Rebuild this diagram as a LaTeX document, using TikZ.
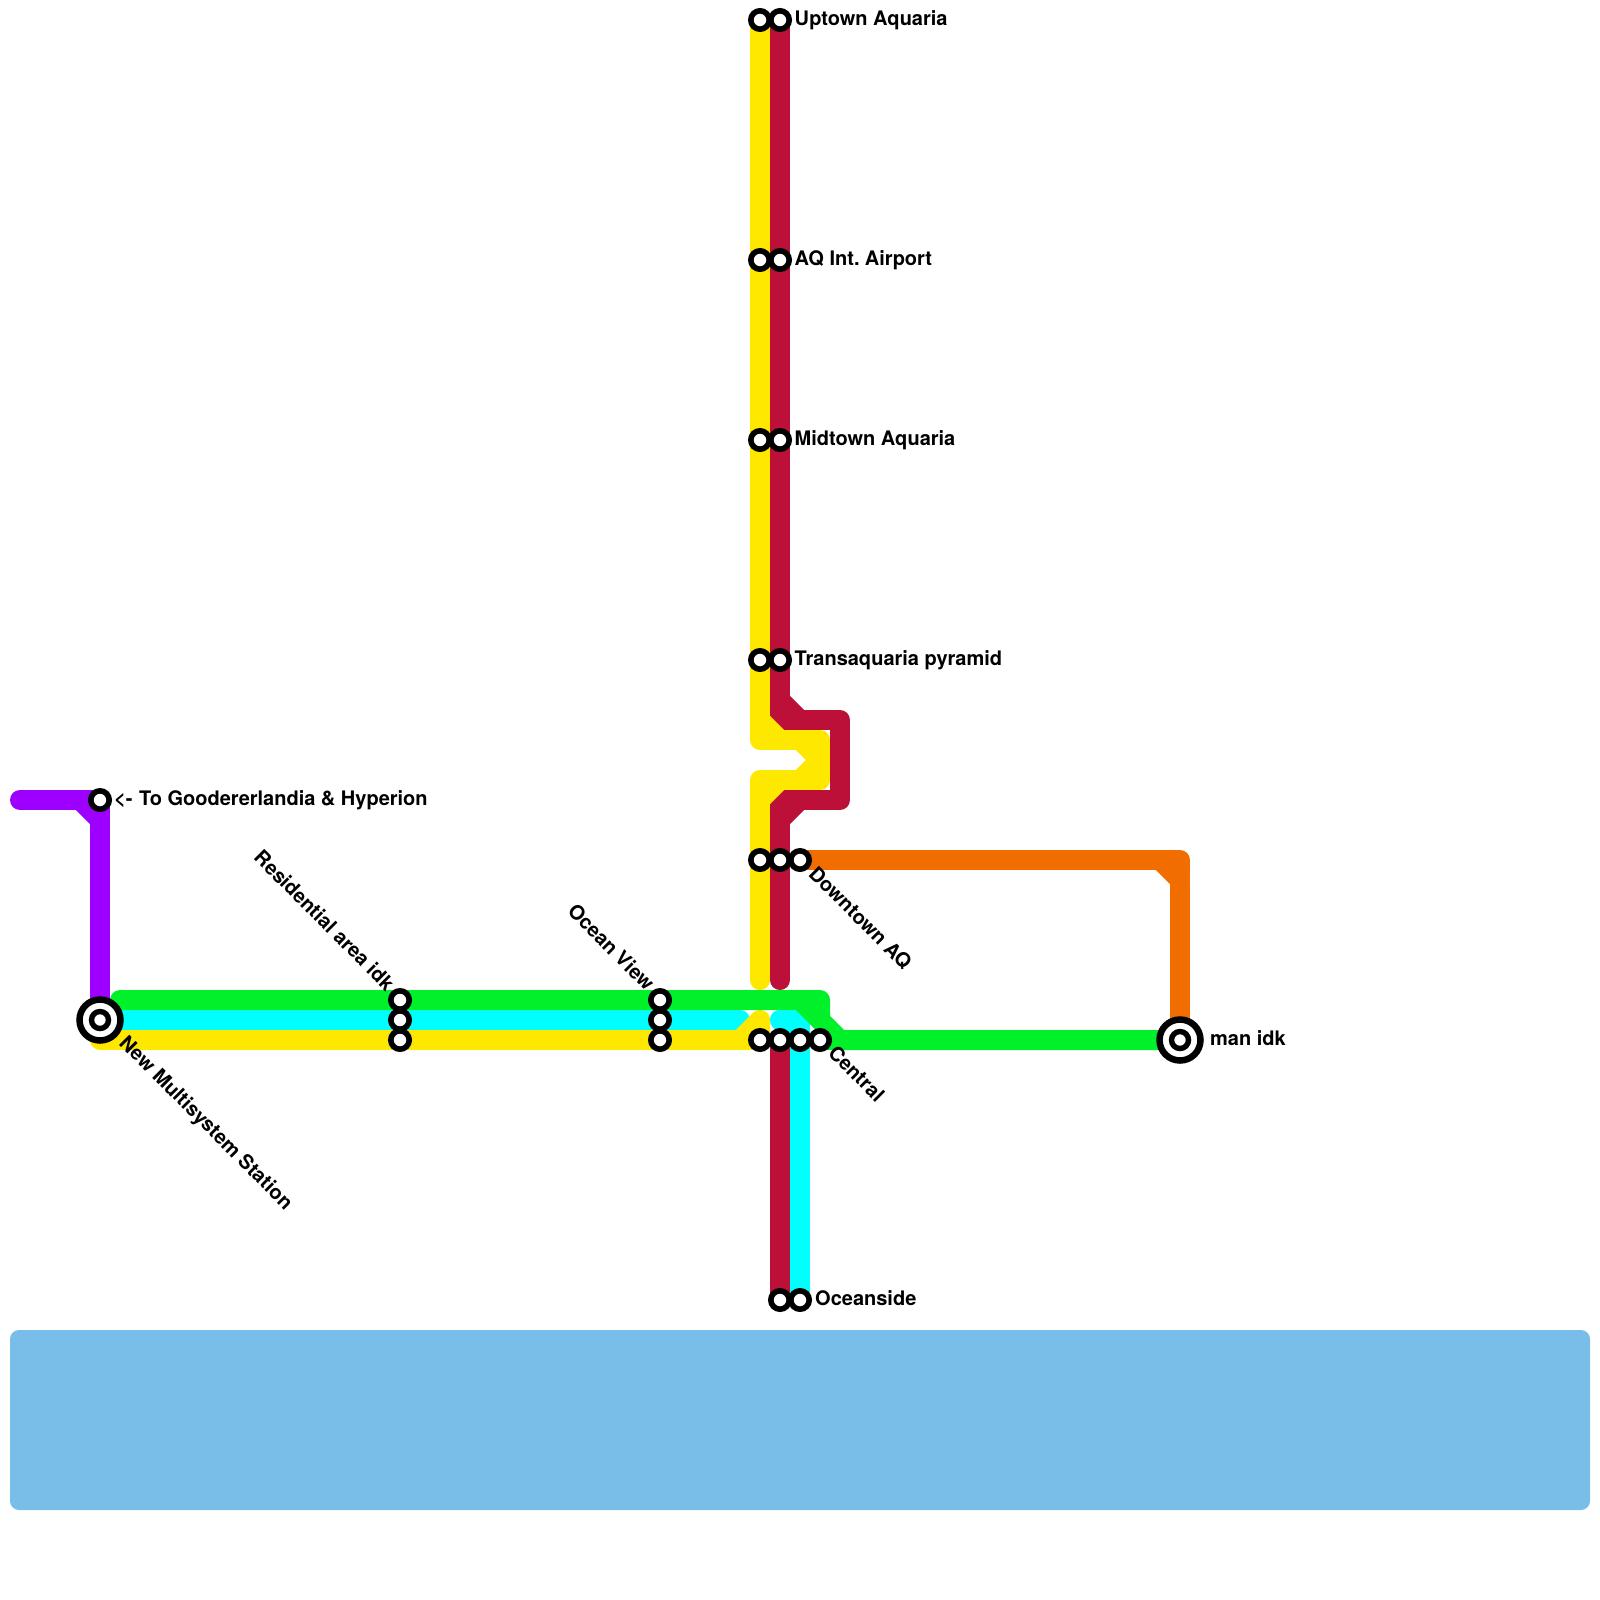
\documentclass[tikz,border=0pt]{standalone}
\usepackage{fontspec}
\setmainfont{TeX Gyre Heros}
\usepackage{xcolor}
\usetikzlibrary{backgrounds}
\definecolor{lineyel}{HTML}{FFE800}
\definecolor{linered}{HTML}{BD1038}
\definecolor{linecya}{HTML}{00FFFF}
\definecolor{linegrn}{HTML}{00F02A}
\definecolor{linepur}{HTML}{9D00FF}
\definecolor{lineora}{HTML}{F26D00}
\definecolor{waterblue}{HTML}{79BDE9}

\begin{document}
\begin{tikzpicture}[
      x=1pt, y=-1pt,
      stn/.style={circle, draw=black, fill=white, line width=5.6pt, minimum size=18.4pt, inner sep=0pt, outer sep=0pt},
      hub/.style={circle, draw=black, fill=white, line width=6.5pt, minimum size=41pt, inner sep=0pt, outer sep=0pt},
      hubin/.style={circle, draw=black, fill=white, line width=5.4pt, minimum size=17pt, inner sep=0pt, outer sep=0pt},
      lbl/.style={font=\fontsize{20}{24}\bfseries\selectfont, inner sep=0pt, anchor=base west},
      lblup/.style={font=\fontsize{20}{24}\bfseries\selectfont, inner sep=0pt, anchor=base east, rotate=-45},
      lbldown/.style={lbl, rotate=-45},
      metro/.style={line width=20pt, line cap=round, line join=round}
    ]
      \useasboundingbox (0,0) rectangle (1600,1600);
      % stations
      \node[stn] (upyel) at (760,20) {};
      \node[stn] (upred) at (780,20) {};
      \node[stn] (airyel) at (760,260) {};
      \node[stn] (airred) at (780,260) {};
      \node[stn] (midyel) at (760,440) {};
      \node[stn] (midred) at (780,440) {};
      \node[stn] (pyryel) at (760,660) {};
      \node[stn] (pyrred) at (780,660) {};
      \node[stn] (dtyel) at (760,860) {};
      \node[stn] (dtred) at (780,860) {};
      \node[stn] (dtora) at (800,860) {};
      \node[stn] (togood) at (100,800) {};
      \node[stn] (resgrn) at (400,1000) {};
      \node[stn] (rescya) at (400,1020) {};
      \node[stn] (resyel) at (400,1040) {};
      \node[stn] (ovgrn) at (660,1000) {};
      \node[stn] (ovcya) at (660,1020) {};
      \node[stn] (ovyel) at (660,1040) {};
      \node[stn] (cenyel) at (760,1040) {};
      \node[stn] (cenred) at (780,1040) {};
      \node[stn] (cencya) at (800,1040) {};
      \node[stn] (cengrn) at (820,1040) {};
      \node[stn] (ocred) at (780,1300) {};
      \node[stn] (occya) at (800,1300) {};
      \node[hub] (hubw) at (100,1020) {};
      \node[hubin] (hubwin) at (100,1020) {};
      \node[hub] (hube) at (1180,1040) {};
      \node[hubin] (hubein) at (1180,1040) {};
      % labels
      \node[lbl] (lblup) at (794.5,26) {Uptown Aquaria};
      \node[lbl] (lblair) at (794.5,265) {AQ Int.\kern-2pt{} Airport};
      \node[lbl] (lblmid) at (794.5,445) {Midtown Aquaria};
      \node[lbl] (lblpyr) at (794.5,665) {Transaquaria pyramid};
      \node[lbl] (lblgood) at (114,805) {<-\kern1pt{} To Goodererlandia \& Hyperion};
      \node[lbl] (lblocean) at (815,1305) {Oceanside};
      \node[lbl] (lblman) at (1210,1045) {man idk};
      \node[lbldown] (lbldt) at (807.5,875) {Downtown AQ};
      \node[lbldown] (lblcen) at (827,1054) {Central};
      \node[lbldown] (lblnew) at (118,1044) {New Multisystem Station};
      \node[lblup] (lblres) at (386,992) {Residential area idk};
      \node[lblup] (lblov) at (646,992) {Ocean View};
      % bends
      \coordinate (purstart) at (20,800);
      \coordinate (purcut) at (80,800);
      \coordinate (purturn) at (100,820);
      \coordinate (ybendA) at (760,740);
      \coordinate (ybendB) at (820,740);
      \coordinate (ybendC) at (820,780);
      \coordinate (ybendD) at (760,780);
      \coordinate (yend) at (760,980);
      \coordinate (ycutA) at (760,720);
      \coordinate (ycutB) at (780,740);
      \coordinate (ycutC) at (800,740);
      \coordinate (ycutD) at (820,760);
      \coordinate (ycutE) at (800,780);
      \coordinate (ycutF) at (780,780);
      \coordinate (ycutG) at (760,800);
      \coordinate (rbendA) at (780,720);
      \coordinate (rbendB) at (840,720);
      \coordinate (rbendC) at (840,800);
      \coordinate (rbendD) at (780,800);
      \coordinate (rend) at (780,980);
      \coordinate (rcutA) at (780,700);
      \coordinate (rcutB) at (800,720);
      \coordinate (rcutC) at (780,820);
      \coordinate (rcutD) at (800,800);
      \coordinate (ycorner) at (100,1040);
      \coordinate (yrise) at (740,1040);
      \coordinate (ytop) at (760,1020);
      \coordinate (cend) at (740,1020);
      \coordinate (cstart) at (780,1020);
      \coordinate (cturn) at (800,1020);
      \coordinate (gstart) at (120,1000);
      \coordinate (gcut) at (800,1000);
      \coordinate (gbend) at (820,1000);
      \coordinate (gturn) at (820,1020);
      \coordinate (gout) at (840,1040);
      \coordinate (ocorner) at (1180,860);
      \coordinate (ocut) at (1160,860);
      \coordinate (oturn) at (1180,880);
      \begin{scope}[on background layer]
        \fill[waterblue, rounded corners=9pt] (10,1330) rectangle (1590,1510);
        % purple
        \draw[metro, linepur] (purstart) -- (togood.center) -- (hubw.center);
        \draw[metro, linepur] (purcut) -- (purturn);
        % orange
        \draw[metro, lineora] (dtora.center) -- (ocorner) -- (hube.center);
        \draw[metro, lineora] (ocut) -- (oturn);
        % cyan
        \draw[metro, linecya] (hubw.center) -- (cend);
        \draw[metro, linecya] (cstart) -- (cturn) -- (occya.center);
        \draw[metro, linecya] (cstart) -- (cencya.center);
        % red
        \draw[metro, linered] (upred.center) -- (rbendA) -- (rbendB) -- (rbendC) -- (rbendD) -- (rend);
        \draw[metro, linered] (rcutA) -- (rcutB);
        \draw[metro, linered] (rcutC) -- (rcutD);
        \draw[metro, linered] (cenred.center) -- (ocred.center);
        % yellow
        \draw[metro, lineyel] (upyel.center) -- (ybendA) -- (ybendB) -- (ybendC) -- (ybendD) -- (yend);
        \draw[metro, lineyel] (ycutA) -- (ycutB);
        \draw[metro, lineyel] (ycutC) -- (ycutD) -- (ycutE);
        \draw[metro, lineyel] (ycutG) -- (ycutF);
        \draw[metro, lineyel] (hubw.center) -- (ycorner) -- (cenyel.center);
        \draw[metro, lineyel] (yrise) -- (ytop) -- (cenyel.center);
        % green
        \draw[metro, linegrn] (gstart) -- (gbend) -- (gturn) -- (gout) -- (hube.center);
        \draw[metro, linegrn] (gcut) -- (gturn);
        \draw[metro, linegrn] (cengrn.center) -- (gout);
      \end{scope}
    \end{tikzpicture}
\end{document}
